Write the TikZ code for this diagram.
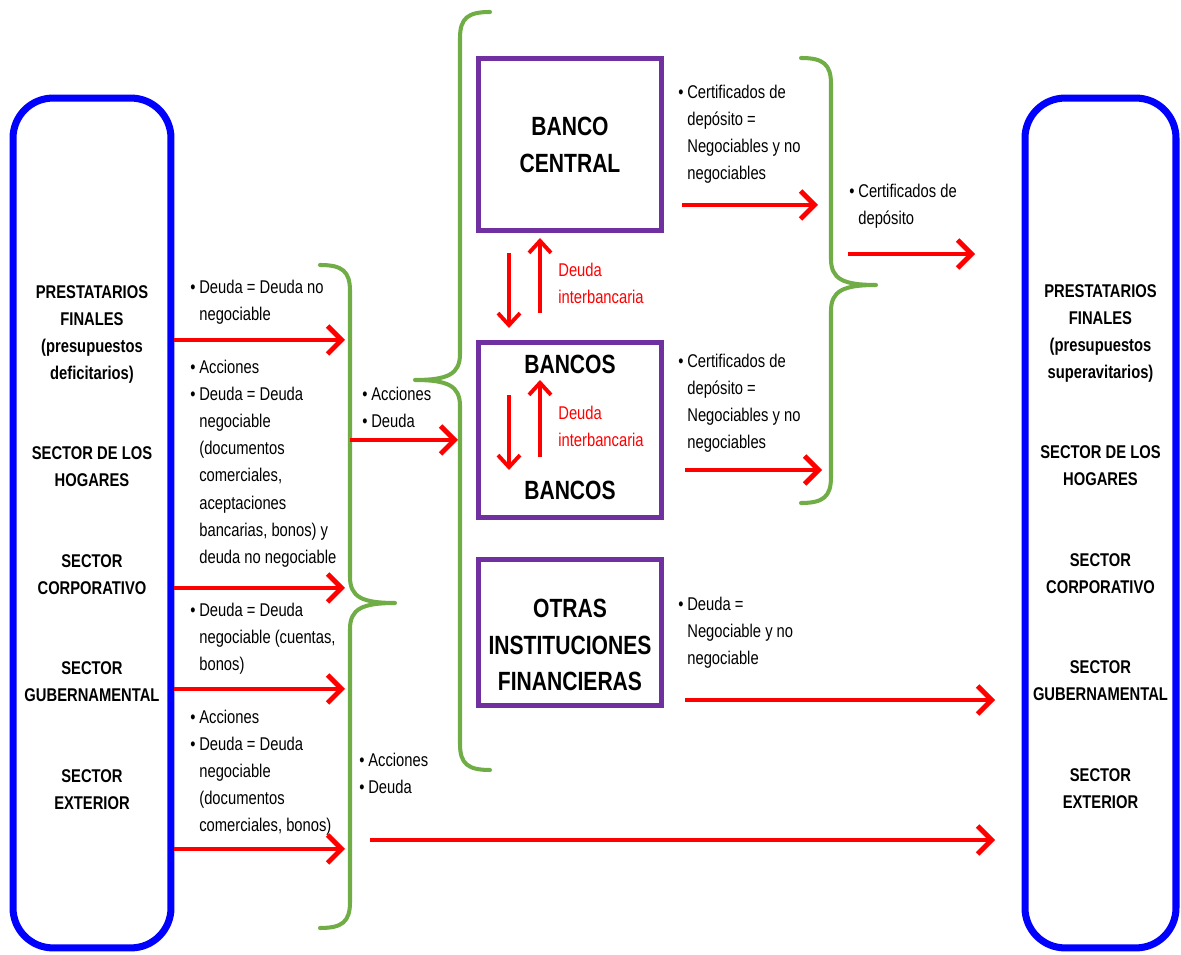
\documentclass[tikz,border=0pt]{standalone}
\usepackage{fontspec}
\setmainfont{Liberation Sans}[FakeStretch=0.8]
\usetikzlibrary{arrows.meta}

\definecolor{azul}{RGB}{0,0,255}
\definecolor{morado}{RGB}{112,48,160}
\definecolor{verde}{RGB}{112,173,71}
\definecolor{rojo}{RGB}{255,0,0}

\newcommand{\bul}{\makebox[0.18cm][l]{\textbullet}}
\newcommand{\sang}{\hspace*{0.18cm}}
% llave: x de la linea, y arriba, y punta, y abajo, sentido (1 = punta a la derecha)
\newcommand{\llave}[5]{%
  \draw[llavestyle] ({#1-30*(#5)},#2) .. controls ({#1-8*(#5)},#2) and (#1,{#2+6}) .. (#1,{#2+26})
    -- (#1,{#3-26}) .. controls (#1,{#3-6}) and ({#1+12*(#5)},#3) .. ({#1+45*(#5)},#3)
    .. controls ({#1+12*(#5)},#3) and (#1,{#3+6}) .. (#1,{#3+26})
    -- (#1,{#4-26}) .. controls (#1,{#4-6}) and ({#1-8*(#5)},#4) .. ({#1-30*(#5)},#4);}

\tikzset{
  sector/.style={draw=azul, line width=4pt, rounded corners=0.8cm, minimum width=3.16cm, minimum height=17cm},
  banco/.style={draw=morado, line width=2.8pt, minimum width=3.66cm},
  llavestyle/.style={draw=verde, line width=2.3pt, line cap=round, line join=round},
  flecha/.style={draw=rojo, line width=2.8pt, -{Straight Barb[length=2.8mm, width=5.6mm]}},
  flechita/.style={draw=rojo, line width=2.2pt, -{Straight Barb[length=2.4mm, width=4.4mm]}},
  titulo/.style={font=\bfseries\fontsize{10.5}{15.4}\selectfont, align=center, inner sep=0pt, anchor=north},
  nombre/.style={font=\bfseries\fontsize{15}{21}\selectfont, align=center, inner sep=0pt},
  lista/.style={font=\fontsize{10.5}{15.4}\selectfont, align=left, inner sep=0pt, anchor=north west},
  nota/.style={lista, text=rojo},
}

\begin{document}
\begin{tikzpicture}[x=0.02cm, y=-0.02cm]
    \useasboundingbox (0,0) rectangle (1181,955);

    % prestatarios
    \node[sector] (deficit) at (92,523) {};
    \node[sector, minimum width=3.02cm] (superavit) at (1100.5,523) {};

    \node[titulo] (defA) at (deficit.center |- 0,285) {PRESTATARIOS\\FINALES\\(presupuestos\\deficitarios)};
    \node[titulo] (defB) at (deficit.center |- 0,446) {SECTOR DE LOS\\HOGARES};
    \node[titulo] (defC) at (deficit.center |- 0,554) {SECTOR\\CORPORATIVO};
    \node[titulo] (defD) at (deficit.center |- 0,661) {SECTOR\\GUBERNAMENTAL};
    \node[titulo] (defE) at (deficit.center |- 0,769) {SECTOR\\EXTERIOR};

    \node[titulo] (supA) at (superavit.center |- 0,284) {PRESTATARIOS\\FINALES\\(presupuestos\\superavitarios)};
    \node[titulo] (supB) at (superavit.center |- 0,445) {SECTOR DE LOS\\HOGARES};
    \node[titulo] (supC) at (superavit.center |- 0,553) {SECTOR\\CORPORATIVO};
    \node[titulo] (supD) at (superavit.center |- 0,660) {SECTOR\\GUBERNAMENTAL};
    \node[titulo] (supE) at (superavit.center |- 0,768) {SECTOR\\EXTERIOR};

    % intermediarios
    \node[banco, minimum height=3.44cm, nombre] (central) at (570,144.5) {BANCO\\CENTRAL};
    \node[banco, minimum height=3.5cm] (bancos) at (570,430) {};
    \node[nombre] (bancosA) at (570,364) {BANCOS};
    \node[nombre] (bancosB) at (570,490) {BANCOS};
    \node[banco, minimum height=2.92cm] (otras) at (570,632.5) {};
    \node[nombre] (otrasT) at (570,645) {OTRAS\\INSTITUCIONES\\FINANCIERAS};

    % llaves
    \llave{350}{265}{603}{928}{1}
    \llave{460}{12}{380}{770}{-1}
    \llave{831}{58}{285}{503}{1}

    % textos de los flujos
    \node[lista] (flujoA) at (190,280) {\bul Deuda = Deuda no\\\sang negociable};
    \node[lista] (flujoB) at (190,360) {\bul Acciones\\\bul Deuda = Deuda\\\sang negociable\\\sang (documentos\\\sang comerciales,\\\sang aceptaciones\\\sang bancarias, bonos) y\\\sang deuda no negociable};
    \node[lista] (flujoC) at (190,603) {\bul Deuda = Deuda\\\sang negociable (cuentas,\\\sang bonos)};
    \node[lista] (flujoD) at (190,710) {\bul Acciones\\\bul Deuda = Deuda\\\sang negociable\\\sang (documentos\\\sang comerciales, bonos)};
    \node[lista] (mercadoA) at (362,387) {\bul Acciones\\\bul Deuda};
    \node[lista] (mercadoB) at (359,753) {\bul Acciones\\\bul Deuda};
    \node[lista] (certA) at (678,85) {\bul Certificados de\\\sang depósito =\\\sang Negociables y no\\\sang negociables};
    \node[lista] (certB) at (678,354) {\bul Certificados de\\\sang depósito =\\\sang Negociables y no\\\sang negociables};
    \node[lista] (certC) at (849,184) {\bul Certificados de\\\sang depósito};
    \node[lista] (deudaOIF) at (678,597) {\bul Deuda =\\\sang Negociable y no\\\sang negociable};
    \node[nota] (interA) at (558,263) {Deuda\\interbancaria};
    \node[nota] (interB) at (558,406) {Deuda\\interbancaria};

    % puntos de llegada
    \coordinate (entradaA) at (345,0);
    \coordinate (salidaA) at (350,440);
    \coordinate (entradaB) at (458,440);
    \coordinate (directoA) at (370,840);
    \coordinate (directoB) at (995,840);
    \coordinate (certIniA) at (682,205);
    \coordinate (certFinA) at (818,205);
    \coordinate (certIniB) at (685,470);
    \coordinate (certFinB) at (822,470);
    \coordinate (certIniC) at (848,254);
    \coordinate (certFinC) at (975,254);
    \coordinate (oifIni) at (685,700);
    \coordinate (oifFin) at (995,700);
    \coordinate (bajaA) at (509,253);
    \coordinate (bajaB) at (509,328);
    \coordinate (subeA) at (540,313);
    \coordinate (subeB) at (540,238);
    \coordinate (bajaC) at (509,395);
    \coordinate (bajaD) at (509,470);
    \coordinate (subeC) at (540,457);
    \coordinate (subeD) at (540,380);

    % flechas
    \foreach \y in {340,588,689,849}
        \draw[flecha] (deficit.east |- 0,\y) -- (entradaA |- 0,\y);
    \draw[flecha] (salidaA) -- (entradaB);
    \draw[flecha] (directoA) -- (directoB);
    \draw[flecha] (certIniA) -- (certFinA);
    \draw[flecha] (certIniB) -- (certFinB);
    \draw[flecha] (certIniC) -- (certFinC);
    \draw[flecha] (oifIni) -- (oifFin);
    \draw[flechita] (bajaA) -- (bajaB);
    \draw[flechita] (subeA) -- (subeB);
    \draw[flechita] (bajaC) -- (bajaD);
    \draw[flechita] (subeC) -- (subeD);
\end{tikzpicture}
\end{document}
